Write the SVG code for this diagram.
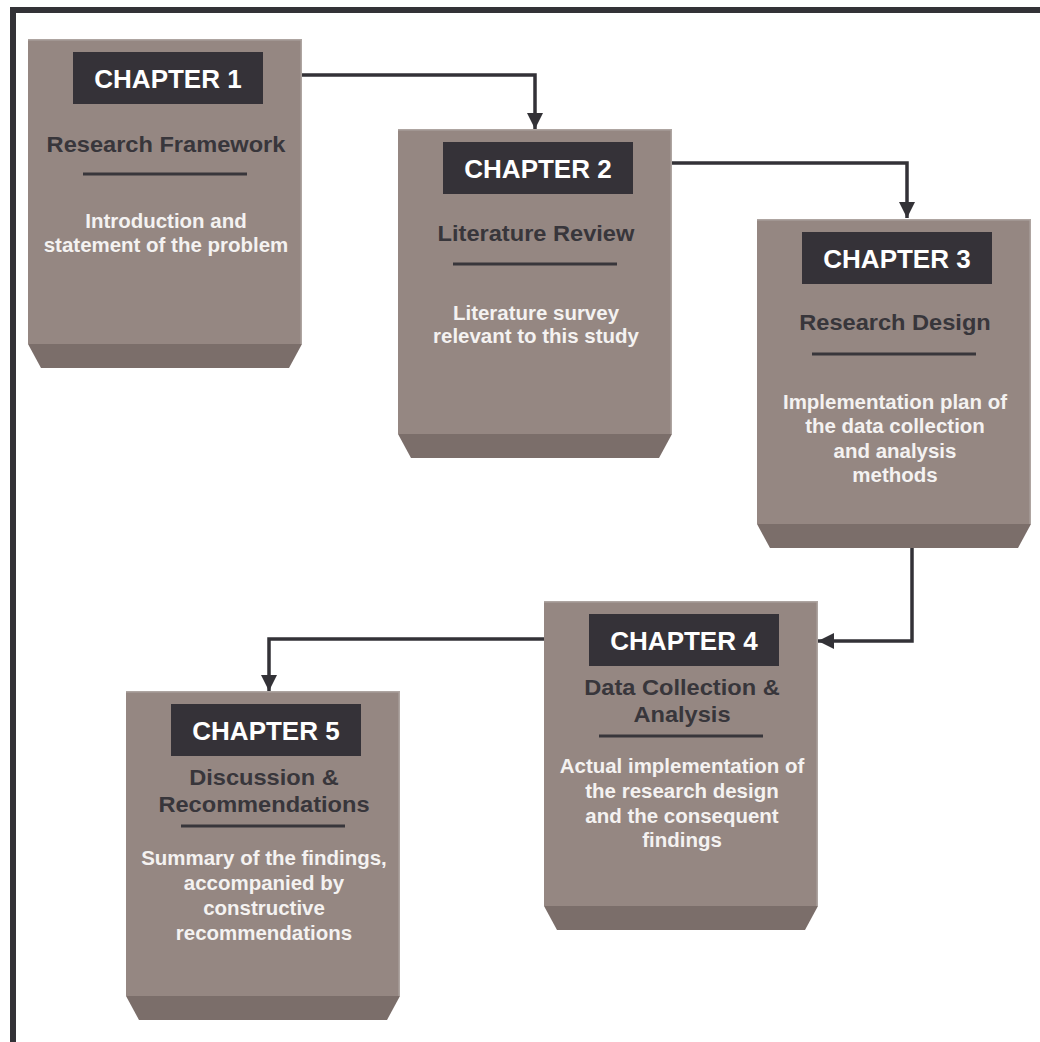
<svg xmlns="http://www.w3.org/2000/svg" width="1040" height="1042" viewBox="0 0 1040 1042">
  <style>
    .body { fill: #958782; }
    .base { fill: #7b6e6a; }
    .edge { fill: none; stroke: #aea5a1; stroke-width: 1.5; }
    .tag { fill: #353238; }
    .tagtxt { font-family: "Liberation Sans", Arial, sans-serif; font-weight: bold; font-size: 26px; fill: #ffffff; text-anchor: middle; }
    .title { font-family: "Liberation Sans", Arial, sans-serif; font-weight: bold; font-size: 22.5px; fill: #38363b; text-anchor: middle; transform-box: fill-box; transform-origin: center; transform: scaleX(1.05); }
    .desc { font-family: "Liberation Sans", Arial, sans-serif; font-weight: bold; font-size: 19.5px; fill: #f4f2f1; text-anchor: middle; transform-box: fill-box; transform-origin: center; transform: scaleX(1.05); }
    .rule { stroke: #38363b; stroke-width: 3; }
    .wire { fill: none; stroke: #333237; stroke-width: 3.5; }
    .frame { fill: none; stroke: #333237; stroke-width: 6; }
  </style>
  <defs>
    <marker id="arrow" markerUnits="userSpaceOnUse" markerWidth="16" markerHeight="16" viewBox="0 0 16 16" refX="16" refY="8" orient="auto">
      <path d="M0,0 L16,8 L0,16 Z" fill="#333237"/>
    </marker>
    <!-- one chapter block: body, bevelled base, light edge, tag box, rule -->
    <g id="block">
      <rect class="body" x="0" y="0" width="274" height="305"/>
      <path class="base" d="M0,305 H274 L261,329 H13 Z"/>
      <path class="edge" d="M0,0.75 H273.25 V305"/>
      <rect class="tag" x="45" y="13" width="190" height="52"/>
      <line class="rule" x1="55" y1="135" x2="219" y2="135"/>
    </g>
  </defs>

  <rect width="1040" height="1042" fill="#ffffff"/>
  <!-- outer frame: top and left edges -->
  <path class="frame" d="M13,1042 V10 H1040"/>

  <g id="chapter1" transform="translate(28,39)">
    <use href="#block"/>
    <text class="tagtxt" x="140" y="49">CHAPTER 1</text>
    <text class="title" x="138" y="113">Research Framework</text>
    <text class="desc" x="138" y="189">Introduction and</text>
    <text class="desc" x="138" y="213">statement of the problem</text>
  </g>

  <g id="chapter2" transform="translate(398,129)">
    <use href="#block"/>
    <text class="tagtxt" x="140" y="49">CHAPTER 2</text>
    <text class="title" x="138" y="112">Literature Review</text>
    <text class="desc" x="138" y="191">Literature survey</text>
    <text class="desc" x="138" y="214">relevant to this study</text>
  </g>

  <g id="chapter3" transform="translate(757,219)">
    <use href="#block"/>
    <text class="tagtxt" x="140" y="49">CHAPTER 3</text>
    <text class="title" x="138" y="111">Research Design</text>
    <text class="desc" x="138" y="190">Implementation plan of</text>
    <text class="desc" x="138" y="214">the data collection</text>
    <text class="desc" x="138" y="239">and analysis</text>
    <text class="desc" x="138" y="263">methods</text>
  </g>

  <g id="chapter4" transform="translate(544,601)">
    <use href="#block"/>
    <text class="tagtxt" x="140" y="49">CHAPTER 4</text>
    <text class="title" x="138" y="94">Data Collection &amp;</text>
    <text class="title" x="138" y="121">Analysis</text>
    <text class="desc" x="138" y="172">Actual implementation of</text>
    <text class="desc" x="138" y="197">the research design</text>
    <text class="desc" x="138" y="222">and the consequent</text>
    <text class="desc" x="138" y="246">findings</text>
  </g>

  <g id="chapter5" transform="translate(126,691)">
    <use href="#block"/>
    <text class="tagtxt" x="140" y="49">CHAPTER 5</text>
    <text class="title" x="138" y="94">Discussion &amp;</text>
    <text class="title" x="138" y="121">Recommendations</text>
    <text class="desc" x="138" y="174">Summary of the findings,</text>
    <text class="desc" x="138" y="199">accompanied by</text>
    <text class="desc" x="138" y="224">constructive</text>
    <text class="desc" x="138" y="249">recommendations</text>
  </g>

  <g id="connectors">
    <path class="wire" d="M302,75 H535 V129" marker-end="url(#arrow)"/>
    <path class="wire" d="M672,163 H907 V218" marker-end="url(#arrow)"/>
    <path class="wire" d="M912,548 V641 H818" marker-end="url(#arrow)"/>
    <path class="wire" d="M544,639 H269 V691" marker-end="url(#arrow)"/>
  </g>
</svg>
